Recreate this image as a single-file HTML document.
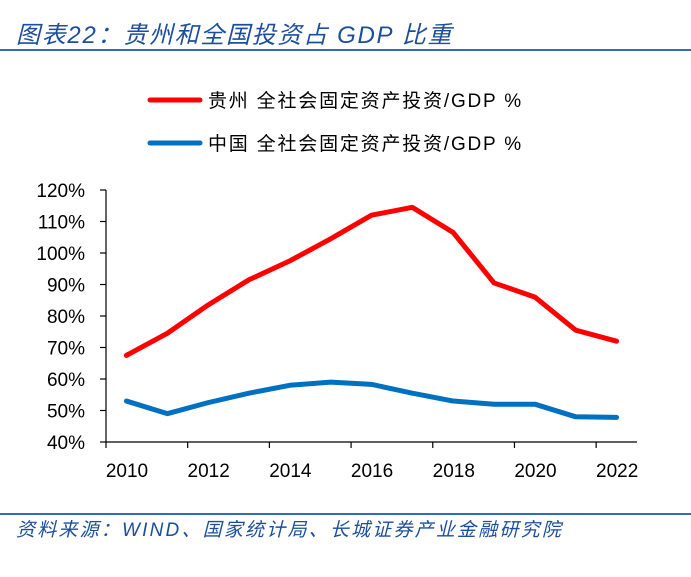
<!DOCTYPE html>
<html><head><meta charset="utf-8">
<style>
body{margin:0;background:#fff;width:691px;height:577px;overflow:hidden;position:relative;font-family:"Liberation Sans","Noto Sans CJK SC",sans-serif;}
.title{position:absolute;left:16px;top:15px;font-size:24px;font-style:italic;color:#1b4f9c;letter-spacing:1.7px;}
.rule{position:absolute;left:0;width:691px;height:2px;background:#2f6db5;}
.src{position:absolute;left:16px;top:515px;font-size:19px;font-style:italic;color:#1b4f9c;letter-spacing:2.2px;}
</style></head><body>
<div class="title">图表22：贵州和全国投资占 GDP 比重</div>
<div class="rule" style="top:49px"></div>
<svg id="chart" width="691" height="577" style="position:absolute;left:0;top:0"></svg>
<div class="rule" style="top:513px"></div>
<div class="src">资料来源：WIND、国家统计局、长城证券产业金融研究院</div>
<script>
const years=[2010,2011,2012,2013,2014,2015,2016,2017,2018,2019,2020,2021,2022];
const guizhou=[67.5,74.5,83.5,91.5,97.5,104.5,112,114.5,106.5,90.5,86,75.5,72];
const china=[53,49,52.5,55.5,58,59,58.3,55.5,53,52,52,48,47.8];
const yTicks=[40,50,60,70,80,90,100,110,120];
const xLabels=[2010,2012,2014,2016,2018,2020,2022];
const NS="http://www.w3.org/2000/svg";
const svg=document.getElementById('chart');
const x0=106,x1=637,yTop=190,yBot=442;
const band=(x1-x0)/years.length;
const xCat=i=>x0+band*(i+0.5);
const xTick=i=>x0+band*i;
const y=v=>yBot-(v-40)/80*(yBot-yTop);
function mk(t,a){const e=document.createElementNS(NS,t);for(const k in a)e.setAttribute(k,a[k]);svg.appendChild(e);return e;}
let e=mk('line',{x1:x0,y1:yTop,x2:x0,y2:yBot,stroke:'#000','stroke-width':1.2});


e=mk('line',{x1:x0,y1:yBot,x2:x1,y2:yBot,stroke:'#000','stroke-width':1.2});


yTicks.forEach(v=>{
  mk('line',{x1:x0-6,y1:y(v),x2:x0,y2:y(v),stroke:'#000','stroke-width':1.2});
  const t=mk('text',{x:x0-21,y:y(v)+7,'text-anchor':'end','font-size':19,'font-family':'Liberation Sans, sans-serif',fill:'#000'});
  t.textContent=v+'%';
  
  
});
xLabels.forEach(yr=>{
  const i=years.indexOf(yr);
  mk('line',{x1:xTick(i),y1:yBot,x2:xTick(i),y2:yBot+6,stroke:'#000','stroke-width':1.2});
  const t=mk('text',{x:xTick(i)+21,y:yBot+35,'text-anchor':'middle','font-size':19,'font-family':'Liberation Sans, sans-serif',fill:'#000'});
  t.textContent=yr;
  
  
});
function series(vals,color,name){
  const p=mk('polyline',{points:vals.map((v,i)=>xCat(i)+','+y(v)).join(' '),fill:'none',stroke:color,'stroke-width':5,'stroke-linejoin':'round','stroke-linecap':'round'});
  
  
}
series(guizhou,'#ff0000','guizhou-line');
series(china,'#0070c0','china-line');
function legend(yy,color,label,name){
  const l=mk('line',{x1:150,y1:yy,x2:200,y2:yy,stroke:color,'stroke-width':5,'stroke-linecap':'round'});
  
  
  const t=mk('text',{x:208,y:yy+7,'font-size':19,'letter-spacing':'1.8','font-family':'Liberation Sans, Noto Sans CJK SC, sans-serif',fill:'#000','xml:space':'preserve'});
  t.textContent=label;
  
  
}
legend(100,'#ff0000','贵州  全社会固定资产投资/GDP   %','legend-guizhou');
legend(143,'#0070c0','中国  全社会固定资产投资/GDP   %','legend-china');
</script>
</body></html>
